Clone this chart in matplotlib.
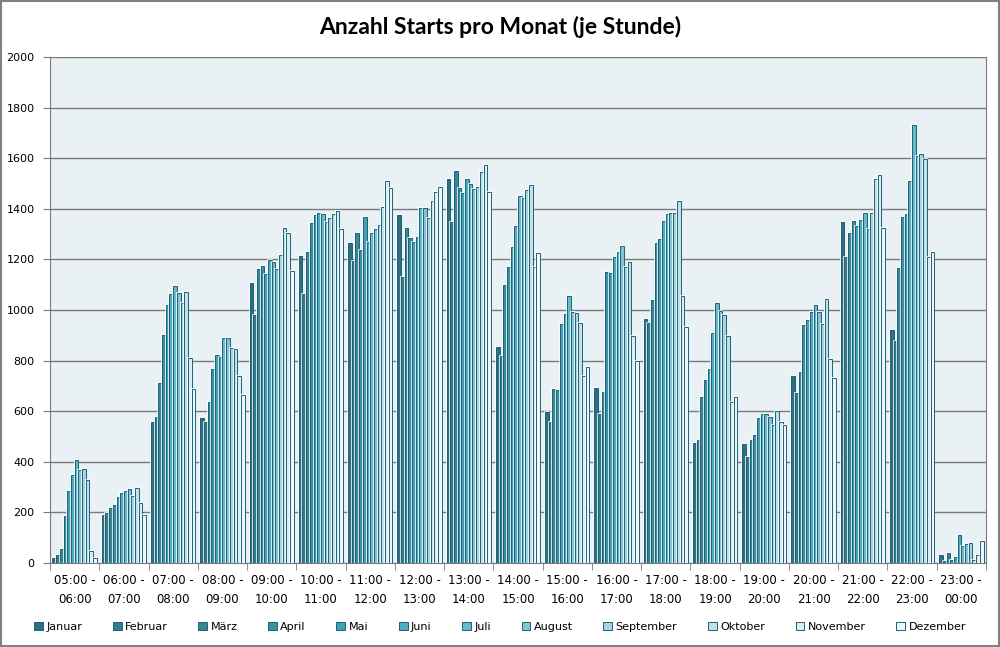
import numpy as np
import matplotlib.pyplot as plt
import matplotlib.patheffects as pe
from matplotlib.patches import Rectangle

# Stunden-Intervalle (x-Achse)
hours = ['05:00 -\n06:00', '06:00 -\n07:00', '07:00 -\n08:00', '08:00 -\n09:00',
         '09:00 -\n10:00', '10:00 -\n11:00', '11:00 -\n12:00', '12:00 -\n13:00',
         '13:00 -\n14:00', '14:00 -\n15:00', '15:00 -\n16:00', '16:00 -\n17:00',
         '17:00 -\n18:00', '18:00 -\n19:00', '19:00 -\n20:00', '20:00 -\n21:00',
         '21:00 -\n22:00', '22:00 -\n23:00', '23:00 -\n00:00']

months = ['Januar', 'Februar', 'März', 'April', 'Mai', 'Juni', 'Juli',
          'August', 'September', 'Oktober', 'November', 'Dezember']

# Starts je Stunde, eine Liste pro Monat
januar    = [21, 190, 556, 573, 1107, 1214, 1266, 1374, 1518, 853, 598, 692, 963, 473, 469, 739, 1347, 921, 32]
februar   = [32, 199, 577, 556, 979, 1063, 1193, 1129, 1349, 817, 557, 590, 950, 486, 420, 673, 1208, 879, 8]
maerz     = [55, 216, 713, 635, 1161, 1229, 1303, 1323, 1550, 1100, 688, 675, 1040, 656, 486, 755, 1306, 1165, 38]
april     = [186, 229, 900, 767, 1173, 1343, 1236, 1286, 1480, 1169, 684, 1150, 1266, 723, 506, 942, 1351, 1367, 12]
mai       = [286, 262, 1019, 821, 1140, 1374, 1367, 1270, 1464, 1249, 944, 1145, 1282, 767, 573, 962, 1333, 1381, 22]
juni      = [347, 278, 1062, 813, 1199, 1382, 1268, 1290, 1516, 1331, 984, 1208, 1352, 909, 589, 990, 1355, 1510, 111]
juli      = [405, 283, 1095, 888, 1189, 1378, 1303, 1402, 1498, 1452, 1055, 1228, 1378, 1027, 589, 1019, 1382, 1730, 67]
august    = [366, 291, 1066, 888, 1161, 1347, 1319, 1402, 1477, 1442, 991, 1253, 1382, 997, 577, 990, 1319, 1609, 75]
september = [371, 266, 1027, 849, 1216, 1363, 1335, 1363, 1485, 1473, 987, 1169, 1382, 979, 545, 946, 1382, 1618, 80]
oktober   = [327, 296, 1070, 845, 1323, 1378, 1406, 1431, 1546, 1493, 948, 1190, 1430, 897, 601, 1042, 1517, 1598, 12]
november  = [46, 236, 808, 739, 1303, 1390, 1510, 1465, 1573, 1169, 738, 897, 1054, 635, 557, 804, 1533, 1210, 30]
dezember  = [19, 190, 687, 663, 1153, 1319, 1482, 1485, 1468, 1224, 776, 800, 934, 655, 545, 730, 1322, 1227, 88]

series = [januar, februar, maerz, april, mai, juni, juli, august,
          september, oktober, november, dezember]

colors = ['#2f6f7f', '#347b8b', '#398697', '#3b90a4', '#43a0b5', '#4eadc3',
          '#69bacd', '#84c5d5', '#a6d4e0', '#c2e2ea', '#daeef3', '#eef7fa']
edge = '#1b6277'

fig = plt.figure(figsize=(10, 6.47), dpi=100)
ax = fig.add_axes([0.05, 0.13, 0.936, 0.782])
ax.set_facecolor('#e9f1f5')

x = np.arange(len(hours))
w = 0.9 / 12
for j, (vals, name) in enumerate(zip(series, months)):
    bars = ax.bar(x + (j - 5.5) * w, vals, width=w, color=colors[j],
                  edgecolor=edge, linewidth=0.7, label=name, zorder=3)
    for b in bars:
        b.set_path_effects([pe.Stroke(linewidth=1.1, foreground='white'), pe.Normal()])

ax.set_xlim(-0.5, len(hours) - 0.5)
ax.set_ylim(0, 2000)
ax.set_yticks(np.arange(0, 2001, 200))
ax.yaxis.grid(True, color='#7a7a7a', linewidth=1.0, zorder=0)
ax.set_axisbelow(True)

ax.set_xticks(x)
ax.set_xticklabels(hours, fontsize=8.5, family='DejaVu Sans', linespacing=1.55)
ax.set_xticks(np.arange(-0.5, len(hours)), minor=True)
ax.tick_params(axis='x', which='major', length=0, pad=8)
ax.tick_params(axis='x', which='minor', length=5, color='#7a7a7a')
ax.tick_params(axis='y', length=5, color='#7a7a7a', labelsize=8, pad=6)

for s in ['top']:
    ax.spines[s].set_visible(False)
for s in ['left', 'bottom', 'right']:
    ax.spines[s].set_color('#7a7a7a')

fig.text(0.5, 0.958, 'Anzahl Starts pro Monat (je Stunde)', fontsize=16.5, fontweight='bold',
         family='Lato', ha='center', va='center')

leg = fig.legend(loc='lower center', bbox_to_anchor=(0.5, 0.008), ncol=12, frameon=False,
                 fontsize=8, handlelength=0.8, handleheight=0.8, handletextpad=0.3,
                 columnspacing=2.75)

fig.patches.append(Rectangle((0.0005, 0.0008), 0.998, 0.998, transform=fig.transFigure,
                             fill=False, edgecolor='#808080', linewidth=1.5))

fig.savefig('out.png', dpi=100)
